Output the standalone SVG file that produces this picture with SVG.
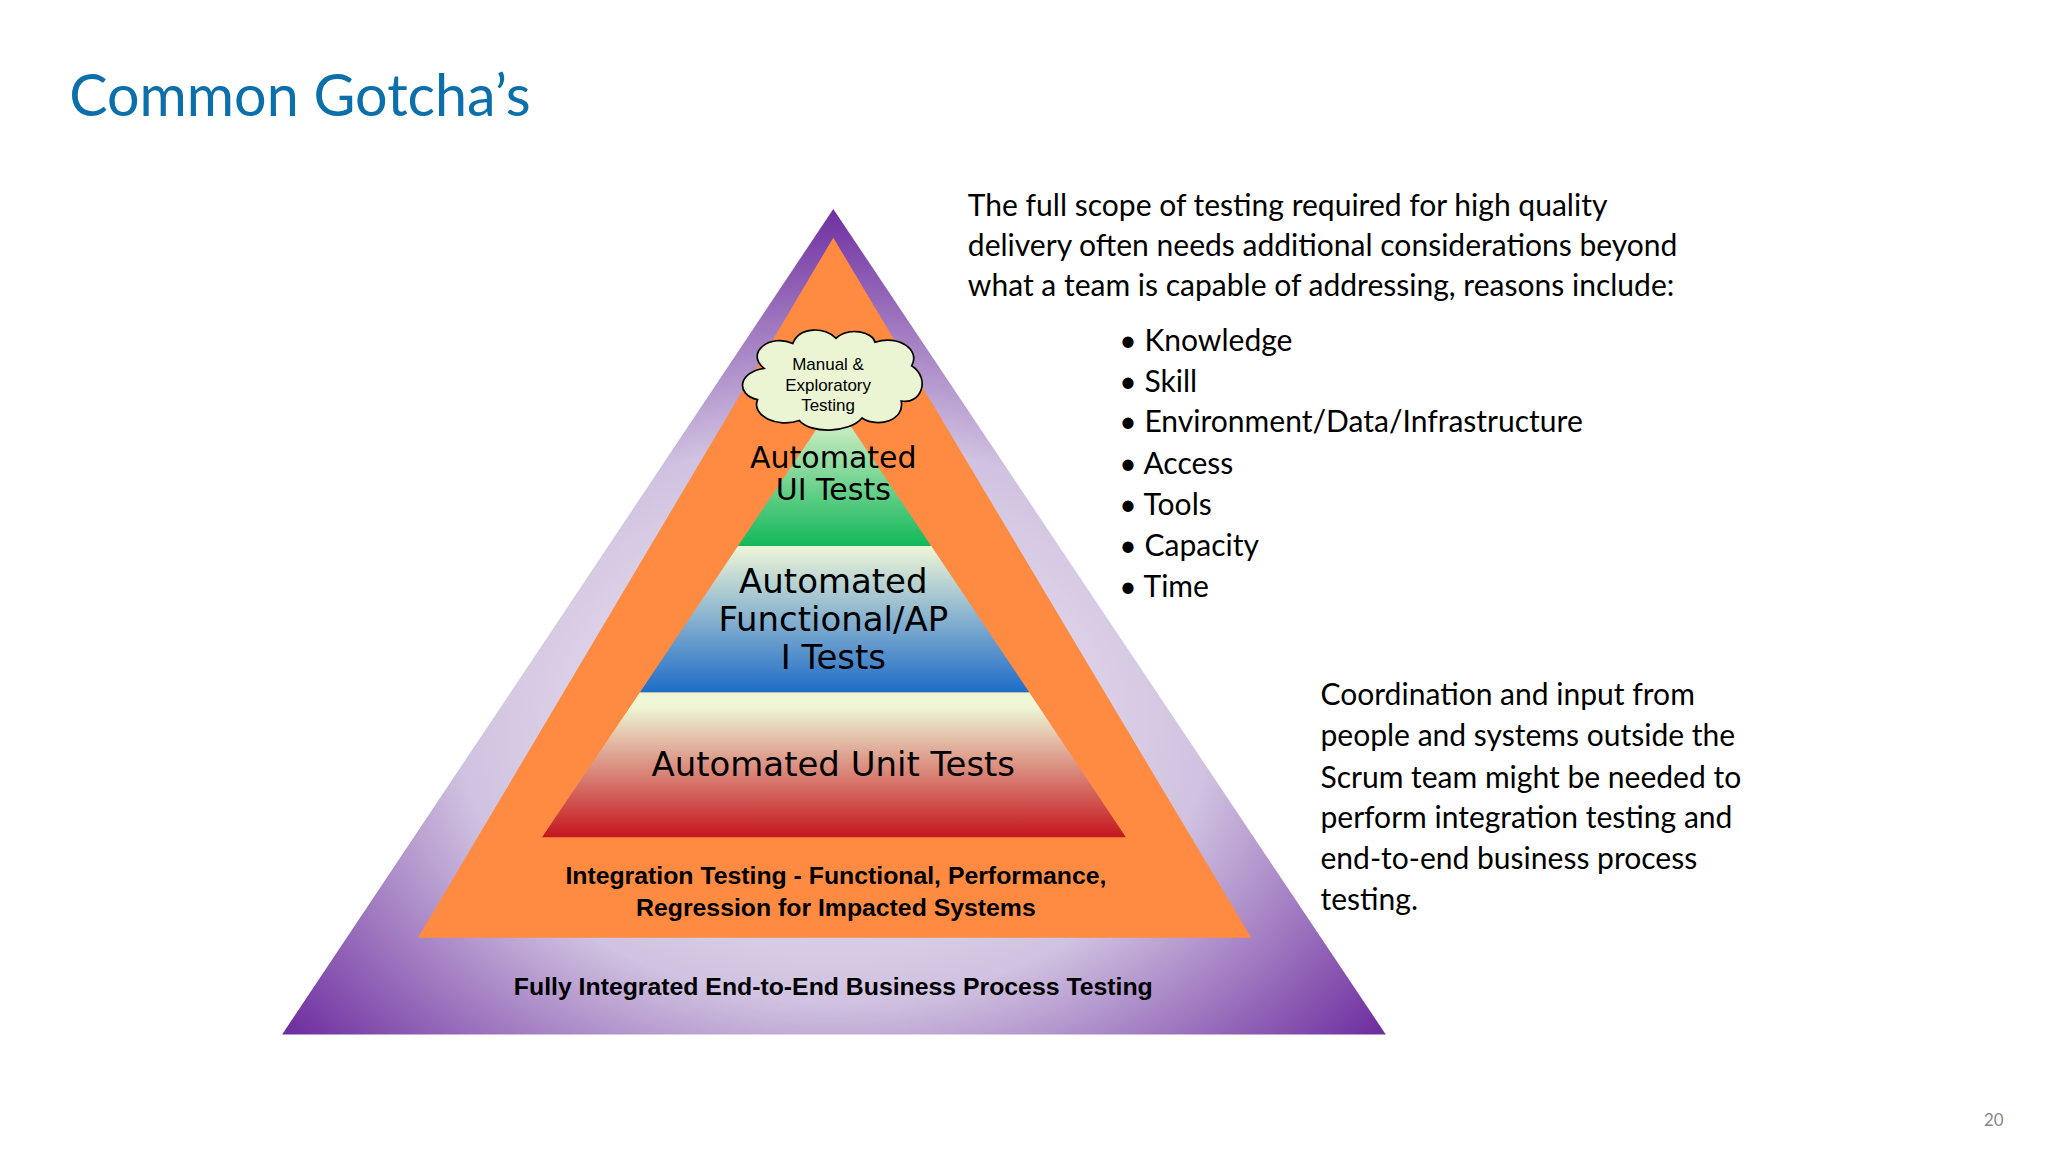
<svg xmlns="http://www.w3.org/2000/svg" width="2048" height="1152" viewBox="0 0 2048 1152">
<defs>
<radialGradient id="gp" cx="0.5" cy="0.62" r="0.62">
<stop offset="0" stop-color="#f4f1f7"/><stop offset="0.55" stop-color="#d0c2e0"/><stop offset="1" stop-color="#6f2fa0"/>
</radialGradient>
<linearGradient id="gg" x1="0" y1="0" x2="0" y2="1"><stop offset="0" stop-color="#eef6d6"/><stop offset="1" stop-color="#12b85a"/></linearGradient>
<linearGradient id="gb" x1="0" y1="0" x2="0" y2="1"><stop offset="0" stop-color="#eef6d6"/><stop offset="1" stop-color="#1f6cc8"/></linearGradient>
<linearGradient id="gr" x1="0" y1="0" x2="0" y2="1"><stop offset="0.1" stop-color="#eef6d6"/><stop offset="1" stop-color="#c4161c"/></linearGradient>
<style>
.a{font-family:"Liberation Sans",Arial,sans-serif;fill:#000;text-anchor:middle}
.d{font-family:"DejaVu Sans",Verdana,sans-serif;fill:#000;text-anchor:middle}
.c{font-family:Lato,"Open Sans",sans-serif;font-size:23px;fill:#000}
</style>
</defs>
<rect width="2048" height="1152" fill="#fff"/>
<g transform="scale(1.3061)">
<text x="53" y="89" font-family="Lato,'Open Sans',sans-serif" font-size="44" fill="#0b6fab">Common Gotcha’s</text>
<g id="outer"><polygon points="638,160 1061,792 216,792" fill="url(#gp)"/></g>
<g id="integration"><polygon points="638,182 958,718 320,718" fill="#fe8b41"/>
<text class="a" x="640" y="677" font-size="19" font-weight="bold">Integration Testing  - Functional, Performance,</text>
<text class="a" x="640" y="701" font-size="19" font-weight="bold">Regression for Impacted Systems</text></g>
<text class="a" x="638" y="762" font-size="19" font-weight="bold">Fully Integrated End-to-End Business Process Testing</text>
<g id="unit"><polygon points="490,530 788,530 862,641 415,641" fill="url(#gr)"/>
<text class="d" x="638" y="594" font-size="26">Automated Unit Tests</text></g>
<g id="functional"><polygon points="565,418 713,418 788,530 490,530" fill="url(#gb)"/>
<text class="d" x="638" y="454" font-size="26">Automated</text>
<text class="d" x="638" y="483" font-size="26">Functional/AP</text>
<text class="d" x="638" y="512" font-size="26">I Tests</text></g>
<g id="ui"><polygon points="639,308 713,418 565,418" fill="url(#gg)"/>
<text class="d" x="638" y="358" font-size="23">Automated</text>
<text class="d" x="638" y="383" font-size="23">UI Tests</text></g>
<g id="cloud">
<path d="M585,282 C570,270 590,255 607,263 C612,250 632,250 640,259 C650,250 668,254 670,262 C688,256 705,268 698,280 C713,290 705,310 690,307 C693,322 672,328 660,320 C650,332 620,332 612,322 C595,328 575,318 580,306 C563,302 565,285 585,282 Z" fill="#ebf5d4" stroke="#000" stroke-width="1.3"/>
<text class="a" x="634" y="283" font-size="13">Manual &amp;</text>
<text class="a" x="634" y="299" font-size="13">Exploratory</text>
<text class="a" x="634" y="315" font-size="13">Testing</text></g>
<g id="text1">
<text class="c" x="741" y="165">The full scope of testing required for high quality</text>
<text class="c" x="741" y="196">delivery often needs additional considerations beyond</text>
<text class="c" x="741" y="227">what a team is capable of addressing, reasons include:</text>
<text class="c" x="857" y="269">•   Knowledge</text>
<text class="c" x="857" y="300">•   Skill</text>
<text class="c" x="857" y="331">•   Environment/Data/Infrastructure</text>
<text class="c" x="857" y="363">•   Access</text>
<text class="c" x="857" y="394">•   Tools</text>
<text class="c" x="857" y="426">•   Capacity</text>
<text class="c" x="857" y="457">•   Time</text></g>
<g id="text2">
<text class="c" x="1011" y="540">Coordination and input from</text>
<text class="c" x="1011" y="571">people and systems outside the</text>
<text class="c" x="1011" y="603">Scrum team might be needed to</text>
<text class="c" x="1011" y="634">perform integration testing and</text>
<text class="c" x="1011" y="665">end-to-end business process</text>
<text class="c" x="1011" y="697">testing.</text></g>
<text x="1519" y="862" font-family="Lato,sans-serif" font-size="13" fill="#888">20</text>
</g>
</svg>
